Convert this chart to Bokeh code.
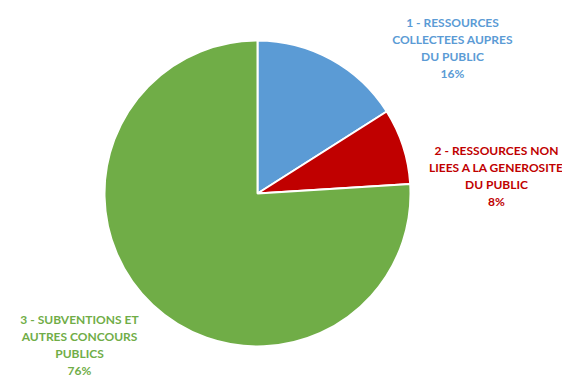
import math
from bokeh.plotting import figure
from bokeh.models import ColumnDataSource
from bokeh.core.properties import value
from bokeh.embed import file_html
from bokeh.resources import INLINE

categories = ["1 - RESSOURCES COLLECTEES AUPRES DU PUBLIC",
              "2 - RESSOURCES NON LIEES A LA GENEROSITE DU PUBLIC",
              "3 - SUBVENTIONS ET AUTRES CONCOURS PUBLICS"]
shares = [16, 8, 76]
colors = ["#5B9BD5", "#C00000", "#70AD47"]
label_lines = [
    ["1 - RESSOURCES", "COLLECTEES AUPRES", "DU PUBLIC"],
    ["2 - RESSOURCES NON", "LIEES A LA GENEROSITE", "DU PUBLIC"],
    ["3 - SUBVENTIONS ET", "AUTRES CONCOURS", "PUBLICS"],
]

W, H = 562, 378
cx, cy, r = 257, H - 193, 153
label_pos = [(452, H - 22), (496, H - 150), (79, H - 319)]
line_step = 17

total = sum(shares)
starts, ends = [], []
cum = 0
for s in shares:
    starts.append(math.pi / 2 - 2 * math.pi * cum / total)
    cum += s
    ends.append(math.pi / 2 - 2 * math.pi * cum / total)

src = ColumnDataSource(dict(cat=categories, share=shares, color=colors,
                            start=starts, end=ends,
                            x=[cx] * 3, y=[cy] * 3))

p = figure(width=W, height=H, x_range=(0, W), y_range=(0, H),
           output_backend="svg", toolbar_location=None,
           min_border=0, outline_line_color=None)
p.axis.visible = False
p.grid.visible = False
p.background_fill_color = "white"

p.wedge(x="x", y="y", radius=r, start_angle="start", end_angle="end",
        direction="clock", fill_color="color", line_color="white",
        line_width=2, source=src)

tx, ty, tt, tc = [], [], [], []
for i, lines in enumerate(label_lines):
    lx, ly = label_pos[i]
    all_lines = lines + [f"{shares[i]}%"]
    for j, t in enumerate(all_lines):
        tx.append(lx)
        ty.append(ly - j * line_step)
        tt.append(t)
        tc.append(colors[i])

tsrc = ColumnDataSource(dict(x=tx, y=ty, text=tt, color=tc))
p.text(x="x", y="y", text="text", text_color="color", source=tsrc,
       text_font=value("Lato"), text_font_style="bold",
       text_font_size="12px", text_align="center", text_baseline="middle")

open("out.html", "w").write(file_html(p, INLINE))
